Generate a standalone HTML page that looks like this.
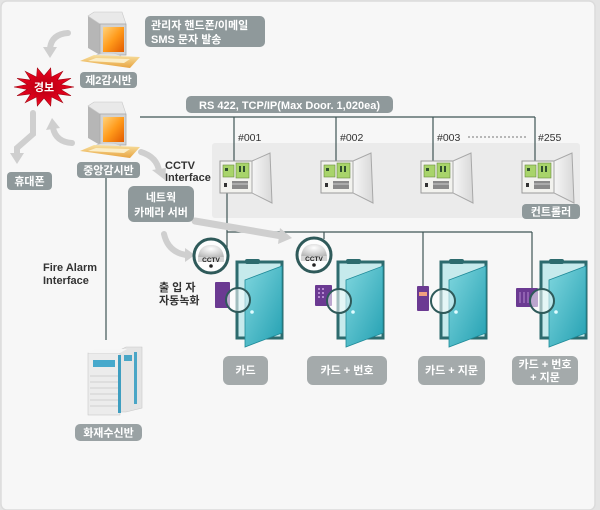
<!DOCTYPE html>
<html><head><meta charset="utf-8"><style>
html,body{margin:0;padding:0;background:#e4e4e4;}
svg{display:block;}
text{font-family:"Liberation Sans","Noto Sans CJK KR","NanumGothic",sans-serif;}
.lb{fill:#fff;font-size:11px;font-weight:bold;}
.dk{fill:#333;font-size:11px;font-weight:bold;}
.ln{stroke:#3f5555;stroke-width:1.2;fill:none;}
</style></head><body>
<svg width="600" height="510" viewBox="0 0 600 510" xmlns="http://www.w3.org/2000/svg">
<defs>
<linearGradient id="scr" x1="0" y1="0" x2="1" y2="1"><stop offset="0" stop-color="#ffd27a"/><stop offset="0.5" stop-color="#ff9a1a"/><stop offset="1" stop-color="#e25a00"/></linearGradient>
<linearGradient id="base" x1="0" y1="0" x2="0" y2="1"><stop offset="0" stop-color="#f7e0a0"/><stop offset="1" stop-color="#e8a440"/></linearGradient>
<linearGradient id="leaf" x1="0" y1="0" x2="1" y2="1"><stop offset="0" stop-color="#7fd6de"/><stop offset="1" stop-color="#23a0b2"/></linearGradient>
<linearGradient id="cdoor" x1="0" y1="0" x2="1" y2="0"><stop offset="0" stop-color="#f6f6f6"/><stop offset="1" stop-color="#d8d8d8"/></linearGradient>
<radialGradient id="star" cx="0.5" cy="0.5" r="0.6"><stop offset="0" stop-color="#b00010"/><stop offset="0.6" stop-color="#e0001c"/><stop offset="1" stop-color="#ff3030"/></radialGradient>
<radialGradient id="dome" cx="0.5" cy="0.3" r="0.7"><stop offset="0" stop-color="#ffffff"/><stop offset="1" stop-color="#b8b8b8"/></radialGradient>

<g id="pc">
  <polygon points="8,6 20,14 20,45 8,38" fill="#b6b6b6"/>
  <polygon points="8,6 14,2 42,2 46,14 20,14" fill="#e9e9e9" stroke="#c8c8c8" stroke-width="0.6"/>
  <rect x="20" y="14" width="26" height="31" fill="#d2d2d2" stroke="#aaaaaa" stroke-width="0.8"/>
  <rect x="23" y="17" width="21" height="25" fill="url(#scr)"/>
  <ellipse cx="28" cy="47" rx="13" ry="4" fill="#e2e2e2" stroke="#c4c4c4" stroke-width="0.6"/>
  <polygon points="0,51 14,45 60,47 50,58" fill="url(#base)"/>
  <polygon points="8,51 16,48 50,49 44,53" fill="#fbeec8"/>
</g>

<g id="ctrl">
  <rect x="0" y="0" width="32" height="32" fill="#f2f2ee" stroke="#9a9a9a" stroke-width="1"/>
  <rect x="3" y="4" width="11" height="12" fill="#a8d46a" stroke="#6a8a40" stroke-width="0.6"/>
  <rect x="16" y="2" width="13" height="15" fill="#a8d46a" stroke="#6a8a40" stroke-width="0.6"/>
  <rect x="5" y="7" width="3" height="3" fill="#2f4f2f"/>
  <rect x="19" y="5" width="2" height="6" fill="#2f4f2f"/><rect x="23" y="5" width="2" height="6" fill="#2f4f2f"/>
  <rect x="4" y="22" width="3" height="4" fill="#333"/>
  <rect x="12" y="20" width="16" height="8" fill="#8a8a8a"/>
  <line x1="12" y1="23" x2="28" y2="23" stroke="#ddd" stroke-width="0.8"/>
  <polygon points="32,0 50,-8 52,42 32,32" fill="url(#cdoor)" stroke="#a8a8a8" stroke-width="1"/>
</g>

<g id="door">
  <rect x="0" y="0" width="45" height="76" fill="#c6eaec" stroke="#2d6b6e" stroke-width="3"/>
  <rect x="8" y="-3" width="15" height="5" rx="2" fill="#2d6b6e"/>
  <rect x="43" y="18" width="3" height="8" fill="#2d6b6e"/>
  <rect x="43" y="52" width="3" height="8" fill="#2d6b6e"/>
  <polygon points="8,18 45,4 45,71 8,85" fill="url(#leaf)" stroke="#1f8a98" stroke-width="0.8"/>
  <circle cx="15" cy="50" r="1.8" fill="#dffcff"/>
</g>

<g id="cam">
  <circle cx="0" cy="0" r="17" fill="#fdfdfd" stroke="#2f5a5a" stroke-width="3"/>
  <path d="M-13,2 Q-12,-11 0,-11 Q12,-11 13,2 Z" fill="url(#dome)"/>
  <rect x="-13" y="1" width="26" height="5" fill="#d4d4d4"/>
  <text x="0" y="6" text-anchor="middle" font-size="6.5" font-weight="bold" fill="#222">CCTV</text>
  <circle cx="0" cy="10" r="1.8" fill="#222"/>
</g>
</defs>

<!-- background panel -->
<rect x="0" y="0" width="600" height="510" fill="#e4e4e4"/>
<rect x="1" y="1" width="594" height="509" rx="6" fill="#f7f7f7" stroke="#dcdcdc" stroke-width="1.5"/>

<!-- gray controller panel -->
<rect x="212" y="143" width="368" height="75" rx="3" fill="#ebebeb"/>

<!-- connection lines -->
<path class="ln" d="M140,117 H535"/>
<path class="ln" d="M234,117 V162 M336,117 V162 M433,117 V162 M535,117 V162"/>
<path class="ln" d="M106,178 V340"/>
<path class="ln" d="M227,193 V256"/>
<path class="ln" d="M227,232 H532 M324,232 V239 M423,232 V287 M532,232 V288"/>
<line x1="468" y1="137" x2="527" y2="137" stroke="#777" stroke-width="1" stroke-dasharray="2,2"/>

<!-- grey arrows -->
<g fill="none" stroke="#cfcfcf" stroke-width="6" stroke-linecap="round">
  <path d="M68,33 Q52,34 50,48"/>
  <path d="M72,143 Q56,142 53,128"/>
  <path d="M33,113 V134 L17,148 V154"/>
  <path d="M141,152 Q157,157 159,171"/>
  <path d="M164,234 Q168,252 186,255"/>
  <path d="M195,221 L282,236" stroke-width="7"/>
</g>
<g fill="#cfcfcf">
  <polygon points="43,47 57,47 50,58"/>
  <polygon points="46,130 60,128 52,118"/>
  <polygon points="10,153 24,153 17,164"/>
  <polygon points="152,170 166,168 165,180"/>
  <polygon points="185,248 185,262 195,255"/>
  <polygon points="280,228 278,244 292,238"/>
</g>

<!-- computers -->
<use href="#pc" x="80" y="10"/>
<use href="#pc" x="80" y="100"/>

<!-- star -->
<polygon fill="url(#star)" stroke="#a00010" stroke-width="0.6" points="74,87 60.6,89.4 71,95.7 57.3,93.9 62.7,102.6 51.4,96.9 50.7,106 44,98 37.3,106 36.6,96.9 25.3,102.6 30.7,93.9 17,95.7 27.4,89.4 14,87 27.4,84.6 17,78.3 30.7,80.1 25.3,71.4 36.6,77.1 37.3,68 44,76 50.7,68 51.4,77.1 62.7,71.4 57.3,80.1 71,78.3 60.6,84.6"/>
<text x="44" y="91" text-anchor="middle" class="lb" font-size="11">경보</text>

<!-- top labels -->
<rect x="145" y="16" width="120" height="31" rx="5" fill="#8f999b"/>
<text x="151" y="29" class="lb">관리자 핸드폰/이메일</text>
<text x="151" y="43" class="lb">SMS 문자 발송</text>

<rect x="80" y="72" width="57" height="16" rx="4" fill="#8f999b"/>
<text x="108.5" y="84" text-anchor="middle" class="lb">제2감시반</text>

<rect x="77" y="162" width="63" height="16" rx="4" fill="#8f999b"/>
<text x="108.5" y="174" text-anchor="middle" class="lb">중앙감시반</text>

<rect x="7" y="172" width="45" height="18" rx="4" fill="#8f999b"/>
<text x="29.5" y="185" text-anchor="middle" class="lb">휴대폰</text>

<rect x="186" y="96" width="207" height="17" rx="5" fill="#8f999b"/>
<text x="289.5" y="109" text-anchor="middle" class="lb">RS 422,  TCP/IP(Max Door. 1,020ea)</text>

<rect x="128" y="186" width="66" height="36" rx="6" fill="#8f999b"/>
<text x="161" y="201" text-anchor="middle" class="lb">네트웍</text>
<text x="161" y="216" text-anchor="middle" class="lb">카메라 서버</text>

<rect x="522" y="204" width="58" height="15" rx="4" fill="#8f999b"/>
<text x="551" y="215.5" text-anchor="middle" class="lb">컨트롤러</text>

<!-- plain texts -->
<text x="165" y="169" class="dk">CCTV</text>
<text x="165" y="181" class="dk">Interface</text>
<text x="43" y="271" class="dk" fill="#444">Fire Alarm</text>
<text x="43" y="284" class="dk" fill="#444">Interface</text>
<text x="159" y="291" class="dk">출 입 자</text>
<text x="159" y="304" class="dk">자동녹화</text>
<g font-size="10.5" fill="#333">
<text x="238" y="141">#001</text>
<text x="340" y="141">#002</text>
<text x="437" y="141">#003</text>
<text x="538" y="141">#255</text>
</g>

<!-- controllers -->
<use href="#ctrl" x="220" y="161"/>
<use href="#ctrl" x="321" y="161"/>
<use href="#ctrl" x="421" y="161"/>
<use href="#ctrl" x="522" y="161"/>

<!-- doors -->
<use href="#door" x="237" y="262"/>
<use href="#door" x="338" y="262"/>
<use href="#door" x="441" y="262"/>
<use href="#door" x="541" y="262"/>

<!-- readers -->
<rect x="215" y="282" width="15" height="26" rx="1" fill="#6b3a92"/>
<rect x="315" y="285" width="17" height="21" rx="1" fill="#6b3a92"/>
<g fill="#b48ad0"><rect x="318" y="288" width="2" height="2"/><rect x="322" y="288" width="2" height="2"/><rect x="318" y="292" width="2" height="2"/><rect x="322" y="292" width="2" height="2"/><rect x="318" y="296" width="2" height="2"/><rect x="322" y="296" width="2" height="2"/></g>
<rect x="417" y="286" width="12" height="25" rx="1" fill="#6b3a92"/>
<rect x="419" y="292" width="8" height="4" fill="#f0a080"/>
<rect x="516" y="288" width="22" height="19" rx="1" fill="#6b3a92"/>
<g stroke="#b48ad0" stroke-width="1"><line x1="520" y1="292" x2="520" y2="303"/><line x1="524" y1="292" x2="524" y2="303"/><line x1="528" y1="292" x2="528" y2="303"/></g>

<!-- magnifiers -->
<g fill="rgba(255,255,255,0.55)" stroke="#2f5a5a" stroke-width="2">
<circle cx="238" cy="300" r="12"/>
<circle cx="339" cy="301" r="12"/>
<circle cx="443" cy="301" r="12"/>
<circle cx="542" cy="301" r="12"/>
</g>

<!-- cameras -->
<use href="#cam" x="211" y="256"/>
<use href="#cam" x="314" y="255"/>

<!-- door labels -->
<g fill="#a4aaab">
<rect x="223" y="356" width="45" height="29" rx="6"/>
<rect x="307" y="356" width="80" height="29" rx="6"/>
<rect x="418" y="356" width="67" height="29" rx="6"/>
<rect x="512" y="356" width="66" height="29" rx="6"/>
</g>
<text x="245.5" y="374" text-anchor="middle" class="lb">카드</text>
<text x="347" y="374" text-anchor="middle" class="lb">카드 + 번호</text>
<text x="451.5" y="374" text-anchor="middle" class="lb">카드 + 지문</text>
<text x="545" y="368" text-anchor="middle" class="lb">카드 + 번호</text>
<text x="545" y="381" text-anchor="middle" class="lb">+ 지문</text>

<!-- fire alarm server -->
<polygon points="118,351 126,347 142,347 142,408 126,412 118,412" fill="#e4e4e4" stroke="#c8c8c8" stroke-width="0.6"/>
<rect x="134" y="352" width="3" height="52" fill="#4aa6c6"/>
<rect x="124" y="355" width="8" height="6" fill="#4aa6c6"/>
<rect x="88" y="353" width="32" height="62" fill="#ececec" stroke="#c8c8c8" stroke-width="0.6"/>
<polygon points="88,353 95,349 127,349 120,353" fill="#f6f6f6"/>
<rect x="93" y="360" width="22" height="7" fill="#47a9cc"/>
<g stroke="#d0d0d0" stroke-width="1">
<line x1="90" y1="376" x2="118" y2="376"/><line x1="90" y1="382" x2="118" y2="382"/><line x1="90" y1="388" x2="118" y2="388"/><line x1="90" y1="394" x2="118" y2="394"/><line x1="90" y1="400" x2="118" y2="400"/><line x1="90" y1="406" x2="118" y2="406"/>
</g>
<rect x="118" y="355" width="3" height="58" fill="#3f9ec0"/>

<rect x="75" y="424" width="67" height="17" rx="5" fill="#9aa2a4"/>
<text x="108.5" y="436.5" text-anchor="middle" class="lb">화재수신반</text>
</svg>
</body></html>
